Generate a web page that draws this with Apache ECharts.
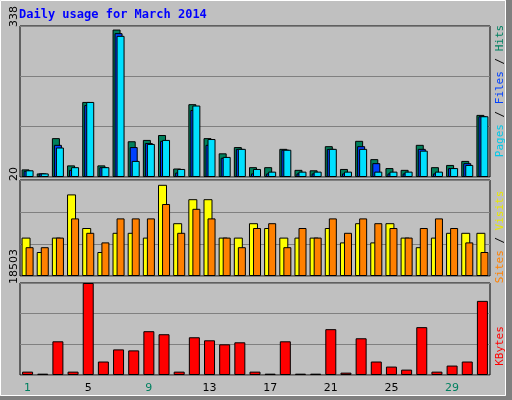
<!DOCTYPE html>
<html><head><meta charset="utf-8">
<script src="https://cdn.jsdelivr.net/npm/echarts@6/dist/echarts.min.js"></script>
<style>html,body{margin:0;padding:0;background:#c0c0c0}#c{width:512px;height:400px}</style>
</head><body><div id="c"></div>
<script>
const days = ['1','2','3','4','5','6','7','8','9','10','11','12','13','14','15','16','17','18','19','20','21','22','23','24','25','26','27','28','29','30','31'];
const weekend = ['1','2','8','9','15','16','22','23','29','30'];
const hits  = [17,8,87,26,168,26,330,80,83,94,19,163,87,53,67,22,22,63,16,15,69,18,81,40,20,16,72,22,27,36,139];
const files = [14,8,72,16,161,22,322,67,76,81,10,150,72,43,63,8,8,61,8,8,63,8,69,31,8,8,63,8,20,31,136];
const pages = [15,8,66,22,168,22,316,36,74,83,18,160,85,45,63,18,12,61,12,12,63,12,63,12,12,12,59,12,20,27,136];
const visits = [8,5,8,17,10,5,9,9,8,19,11,16,16,8,8,11,10,8,8,8,10,7,11,7,11,8,6,8,9,9,9];
const sites  = [6,6,8,12,9,7,12,12,12,15,9,14,12,8,6,10,11,6,10,8,12,9,12,11,10,8,10,12,10,7,5];
const kbytes = [678,270,6778,678,18503,2711,5150,4950,8810,8200,678,7590,6980,6170,6575,678,270,6778,270,270,9218,475,7388,2711,1695,1084,9625,678,1898,2711,14911];
const maxHits = 338, maxVis = 20, maxKB = 18503;

const chart = echarts.init(document.getElementById('c'));
const grids = [
  {left:20,right:22,top:26,height:151},
  {left:20,right:22,top:180,height:96},
  {left:20,right:22,top:283,height:92}
].map(g=>Object.assign(g,{show:true,backgroundColor:'#c0c0c0',borderColor:'#000',borderWidth:1}));
const xa = i => ({type:'category',gridIndex:i,data:days,axisLine:{show:false},axisTick:{show:false},
  axisLabel:{show:i===2,margin:8,fontSize:11,fontFamily:'DejaVu Sans',
    formatter:v=>weekend.includes(v)?'{w|'+v+'}':'{n|'+v+'}',
    rich:{w:{color:'#008060',fontSize:11,fontFamily:'DejaVu Sans'},n:{color:'#000',fontSize:11,fontFamily:'DejaVu Sans'}}}});
const ya = (i,m) => ({type:'value',gridIndex:i,min:0,max:m,interval:m/3,axisLabel:{show:false},axisLine:{show:false},axisTick:{show:false},splitLine:{lineStyle:{color:'#808080',width:1}}});
const bs = c => ({color:c,borderColor:'#000',borderWidth:1});
const vtext = (x,y,t,extra) => Object.assign({type:'text',x:x,y:y,rotation:Math.PI/2,style:Object.assign({text:t,font:'11px DejaVu Sans',fill:'#000',align:'right',verticalAlign:'middle'},extra||{})});
const rtext = (y,parts) => ({type:'text',x:500,y:y,rotation:Math.PI/2,style:{text:parts.map(p=>'{'+p[1]+'|'+p[0]+'}').join(''),align:'center',verticalAlign:'middle',
  rich:{h:{fill:'#008060',font:'11px DejaVu Sans Mono'},f:{fill:'#0040ff',font:'11px DejaVu Sans Mono'},p:{fill:'#00c8e8',font:'11px DejaVu Sans Mono'},
        s:{fill:'#ff8000',font:'11px DejaVu Sans Mono'},v:{fill:'#e8e800',font:'11px DejaVu Sans Mono'},k:{fill:'#ff0000',font:'11px DejaVu Sans Mono'},d:{fill:'#000',font:'11px DejaVu Sans Mono'}}}});
chart.setOption({
  backgroundColor:'#c0c0c0',animation:false,
  grid:grids,
  xAxis:[xa(0),xa(1),xa(2)],
  yAxis:[ya(0,maxHits),ya(1,maxVis),ya(2,maxKB)],
  series:[
    {type:'bar',xAxisIndex:0,yAxisIndex:0,data:hits,barWidth:8,barGap:'-75%',itemStyle:bs('#00805c')},
    {type:'bar',xAxisIndex:0,yAxisIndex:0,data:files,barWidth:8,barGap:'-75%',itemStyle:bs('#0040ff')},
    {type:'bar',xAxisIndex:0,yAxisIndex:0,data:pages,barWidth:8,barGap:'-75%',itemStyle:bs('#00e0ff')},
    {type:'bar',xAxisIndex:1,yAxisIndex:1,data:visits,barWidth:9,barGap:'-55%',itemStyle:bs('#ffff00')},
    {type:'bar',xAxisIndex:1,yAxisIndex:1,data:sites,barWidth:8,barGap:'-55%',itemStyle:bs('#ff8000')},
    {type:'bar',xAxisIndex:2,yAxisIndex:2,data:kbytes,barWidth:11,itemStyle:bs('#ff0000')}
  ],
  graphic:[
    {type:'rect',shape:{x:0.5,y:0.5,width:505,height:395},style:{fill:null,stroke:'#ffffff',lineWidth:1}},
    {type:'rect',shape:{x:506,y:0,width:6,height:400},style:{fill:'#808080'}},
    {type:'rect',shape:{x:0,y:396,width:512,height:4},style:{fill:'#808080'}},
    {type:'text',x:19,y:9,style:{text:'Daily usage for March 2014',font:'bold 12px DejaVu Sans Mono',fill:'#0000ff'}},
    vtext(14,27,String(maxHits),{align:'left'}),
    vtext(14,181,String(maxVis),{align:'left'}),
    vtext(14,284,String(maxKB),{align:'left'}),
    rtext(91,[['Pages','p'],[' / ','d'],['Files','f'],[' / ','d'],['Hits','h']]),
    rtext(237,[['Sites','s'],[' / ','d'],['Visits','v']]),
    rtext(346,[['KBytes','k']])
  ]
});
</script></body></html>
